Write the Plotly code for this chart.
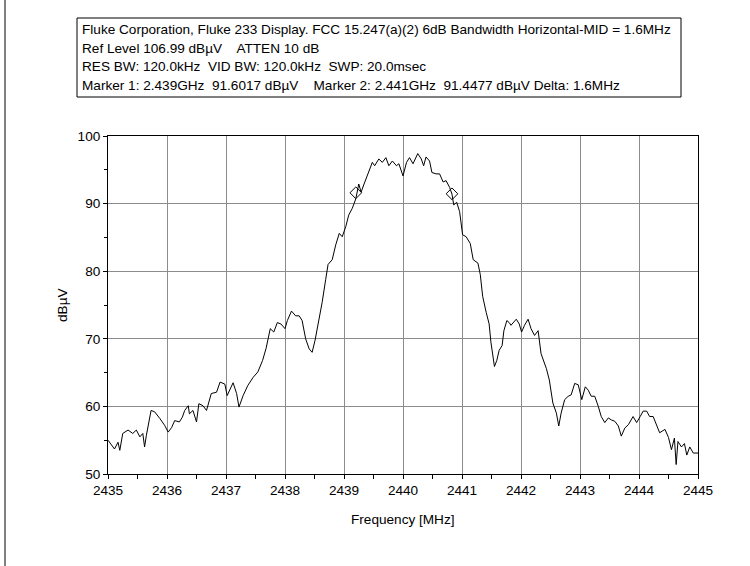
import plotly.graph_objects as go

# ---- data ----
freq_mhz = [
    2435.00, 2435.11, 2435.17, 2435.20, 2435.25, 2435.34, 2435.42, 2435.48, 2435.54, 2435.59,
    2435.62, 2435.65, 2435.73, 2435.79, 2435.88, 2435.96, 2436.02, 2436.08, 2436.13, 2436.21,
    2436.26, 2436.30, 2436.36, 2436.38, 2436.44, 2436.50, 2436.54, 2436.61, 2436.67, 2436.75,
    2436.84, 2436.90, 2436.98, 2437.02, 2437.12, 2437.18, 2437.22, 2437.29, 2437.37, 2437.46,
    2437.54, 2437.62, 2437.68, 2437.75, 2437.81, 2437.87, 2437.93, 2438.00, 2438.04, 2438.11,
    2438.18, 2438.24, 2438.29, 2438.35, 2438.41, 2438.46, 2438.51, 2438.58, 2438.63, 2438.69,
    2438.73, 2438.80, 2438.86, 2438.92, 2438.97, 2439.03, 2439.08, 2439.14, 2439.20, 2439.25,
    2439.29, 2439.34, 2439.38, 2439.42, 2439.48, 2439.52, 2439.59, 2439.65, 2439.71, 2439.76,
    2439.82, 2439.89, 2439.93, 2440.00, 2440.06, 2440.11, 2440.17, 2440.25, 2440.31, 2440.35,
    2440.39, 2440.45, 2440.49, 2440.56, 2440.62, 2440.68, 2440.73, 2440.79, 2440.83, 2440.86,
    2440.91, 2440.96, 2441.01, 2441.07, 2441.14, 2441.19, 2441.27, 2441.31, 2441.35, 2441.41,
    2441.46, 2441.49, 2441.55, 2441.59, 2441.63, 2441.68, 2441.71, 2441.76, 2441.80, 2441.83,
    2441.92, 2441.97, 2442.01, 2442.06, 2442.12, 2442.17, 2442.23, 2442.29, 2442.34, 2442.43,
    2442.48, 2442.54, 2442.60, 2442.64, 2442.68, 2442.74, 2442.80, 2442.85, 2442.91, 2442.97,
    2443.03, 2443.09, 2443.14, 2443.19, 2443.25, 2443.31, 2443.36, 2443.42, 2443.48, 2443.53,
    2443.59, 2443.65, 2443.70, 2443.76, 2443.82, 2443.90, 2443.96, 2444.02, 2444.07, 2444.13,
    2444.18, 2444.24, 2444.30, 2444.35, 2444.44, 2444.50, 2444.55, 2444.60, 2444.63, 2444.66,
    2444.72, 2444.77, 2444.81, 2444.86, 2444.92, 2444.97, 2445.00,
]
level_dbuv = [
    55.0, 53.7, 54.7, 53.5, 56.0, 56.5, 56.0, 56.5, 55.5, 56.0,
    54.0, 55.7, 59.4, 59.2, 58.2, 57.2, 56.2, 56.9, 57.9, 57.7,
    58.4, 59.4, 60.1, 58.9, 59.4, 57.7, 60.4, 60.1, 59.4, 61.9,
    62.1, 63.6, 63.3, 61.6, 63.5, 61.9, 59.9, 61.6, 63.1, 64.3,
    65.1, 66.8, 68.6, 71.5, 71.0, 72.4, 72.2, 71.5, 72.7, 74.1,
    73.4, 73.4, 72.7, 70.0, 68.5, 68.0, 69.8, 72.9, 75.4, 78.8,
    81.0, 81.7, 83.9, 85.6, 85.1, 86.6, 88.3, 89.3, 90.7, 92.9,
    91.7, 92.9, 93.9, 94.9, 96.1, 95.6, 96.6, 96.1, 96.8, 95.6,
    96.3, 95.6, 95.9, 94.1, 96.1, 96.8, 95.9, 97.4, 96.6, 95.6,
    96.9, 96.3, 94.6, 94.4, 94.4, 93.2, 93.4, 92.4, 91.4, 89.8,
    90.2, 88.8, 85.4, 85.1, 84.1, 81.7, 81.2, 79.5, 76.3, 73.9,
    72.2, 69.5, 65.9, 66.8, 68.3, 69.0, 71.2, 72.7, 72.4, 72.0,
    72.9, 72.2, 71.0, 72.0, 72.9, 71.5, 70.5, 71.2, 67.8, 65.6,
    63.9, 60.5, 59.0, 57.1, 59.0, 61.0, 61.5, 61.7, 63.4, 63.2,
    61.0, 62.9, 62.4, 61.5, 61.5, 60.0, 58.5, 57.6, 58.3, 58.0,
    57.8, 57.1, 55.6, 56.8, 57.3, 58.5, 57.6, 58.5, 59.3, 59.3,
    58.5, 58.5, 57.3, 56.1, 56.6, 55.4, 53.6, 55.3, 51.4, 54.8,
    54.0, 54.5, 52.8, 54.0, 53.1, 53.1, 53.1,
]

marker_freq = [2439.20, 2440.83]
marker_level = [91.60, 91.45]

x_ticks = [2435, 2436, 2437, 2438, 2439, 2440, 2441, 2442, 2443, 2444, 2445]
y_ticks = [50, 60, 70, 80, 90, 100]

header_lines = [
    "Fluke Corporation, Fluke 233 Display. FCC 15.247(a)(2) 6dB Bandwidth Horizontal-MID = 1.6MHz",
    "Ref Level 106.99 dBµV    ATTEN 10 dB",
    "RES BW: 120.0kHz  VID BW: 120.0kHz  SWP: 20.0msec",
    "Marker 1: 2.439GHz  91.6017 dBµV    Marker 2: 2.441GHz  91.4477 dBµV Delta: 1.6MHz",
]

# ---- layout geometry (pixels) ----
W, H = 750, 566
L, R, T, B = 108, 52, 136, 92
PW, PH = W - L - R, H - T - B


def px(x):
    return (x - L) / PW


def py(y):
    return (H - B - y) / PH


FONT = "Liberation Sans, Arial, sans-serif"
FS = 13.6

fig = go.Figure()
fig.add_trace(go.Scatter(
    x=freq_mhz, y=level_dbuv, mode="lines",
    line=dict(color="black", width=1), showlegend=False, hoverinfo="skip",
))
fig.add_trace(go.Scatter(
    x=marker_freq, y=marker_level, mode="markers",
    marker=dict(symbol="diamond-open", size=9, color="black", line=dict(width=1)),
    showlegend=False, hoverinfo="skip",
))

axis_common = dict(
    showline=True, linecolor="black", linewidth=1, mirror=True,
    showgrid=True, gridcolor="#8c8c8c", gridwidth=1,
    ticks="outside", ticklen=4, tickcolor="black", tickwidth=1,
    tickfont=dict(family=FONT, size=FS, color="black"),
    zeroline=False,
)

fig.update_xaxes(
    range=[2435, 2445], tickvals=x_ticks, ticktext=[str(v) for v in x_ticks],
    minor=dict(dtick=0.5, tick0=2435, ticks="outside", ticklen=4, tickcolor="black", showgrid=False),
    **axis_common,
)
fig.update_yaxes(
    range=[50, 100], tickvals=y_ticks, ticktext=[str(v) for v in y_ticks],
    minor=dict(dtick=5, tick0=50, ticks="outside", ticklen=3, tickcolor="black", showgrid=False),
    **axis_common,
)

annotations = []
# header box text lines
for i, line in enumerate(header_lines):
    annotations.append(dict(
        text=line, x=px(80), y=py(29 + 19 * i), xref="paper", yref="paper",
        xanchor="left", yanchor="middle", showarrow=False,
        font=dict(family=FONT, size=FS, color="black"),
    ))
# axis titles
annotations.append(dict(
    text="Frequency [MHz]", x=0.5, y=py(519), xref="paper", yref="paper",
    xanchor="center", yanchor="middle", showarrow=False,
    font=dict(family=FONT, size=FS, color="black"),
))
annotations.append(dict(
    text="dBµV", x=px(62), y=0.5, xref="paper", yref="paper", textangle=-90,
    xanchor="center", yanchor="middle", showarrow=False,
    font=dict(family=FONT, size=FS, color="black"),
))

shapes = [
    dict(type="rect", xref="paper", yref="paper", x0=px(77), x1=px(681), y0=py(18), y1=py(97),
         line=dict(color="black", width=1), fillcolor="rgba(0,0,0,0)", layer="above"),
    dict(type="line", xref="paper", yref="paper", x0=px(5), x1=px(5), y0=py(0), y1=py(H),
         line=dict(color="black", width=1)),
]

fig.update_layout(
    width=W, height=H, margin=dict(l=L, r=R, t=T, b=B, pad=0),
    paper_bgcolor="white", plot_bgcolor="white",
    annotations=annotations, shapes=shapes,
    font=dict(family=FONT, size=FS, color="black"),
)

fig.write_html("out.html")
